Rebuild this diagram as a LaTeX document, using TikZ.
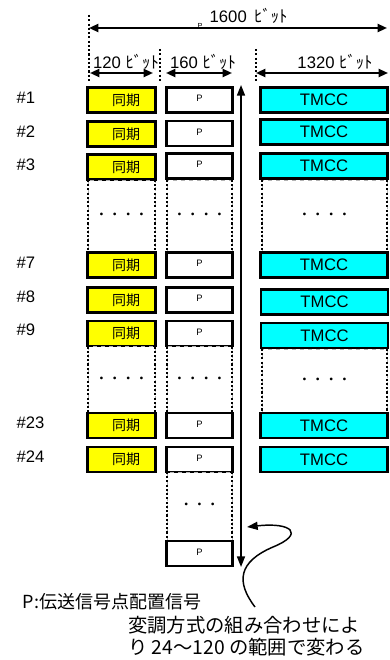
\documentclass[tikz,border=0pt]{standalone}
\usepackage{fontspec}
\setmainfont{Liberation Sans}
\newfontfamily\jp{Noto Sans CJK JP}
\usetikzlibrary{arrows.meta}
\definecolor{tmcccyan}{RGB}{0,255,255}
\definecolor{syncyellow}{RGB}{255,255,0}

\tikzset{
  syncbox/.style={draw, line width=2pt, fill=syncyellow, minimum width=51pt, minimum height=18.75pt, inner sep=0pt, font=\jp\fontsize{10.5}{12}\selectfont},
  pbox/.style={draw, line width=2pt, fill=white, minimum width=49.5pt, minimum height=18.75pt, inner sep=0pt, font=\fontsize{7}{8}\selectfont},
  tmccbox/.style={draw, line width=2pt, fill=tmcccyan, minimum width=95.25pt, minimum height=18.75pt, inner sep=0pt, font=\fontsize{12.5}{14}\selectfont},
  gapbox/.style={draw=gray!60, dashed, thin, inner sep=0pt, font=\jp\fontsize{10}{12}\selectfont},
  gapside/.style={line width=1.6pt, dash pattern=on 1.6pt off 1.6pt},
  rowlbl/.style={anchor=west, font=\fontsize{12.5}{14}\selectfont},
  dimlbl/.style={font=\fontsize{12.5}{14}\selectfont},
  dimarrow/.style={line width=1.5pt, {Triangle[length=7pt,width=6pt]}-{Triangle[length=7pt,width=6pt]}},
  guide/.style={line width=1.6pt, dash pattern=on 1.6pt off 1.6pt},
}
\newcommand{\gapsides}[1]{\draw[gapside] (#1.north west) -- (#1.south west) (#1.north east) -- (#1.south east);}
\newcommand{\bits}{{\jp\fontsize{12.5}{14}\selectfont ﾋﾞｯﾄ}}

\begin{document}
\begin{tikzpicture}[x=0.75pt, y=-0.75pt]
    \useasboundingbox (0,0) rectangle (389,660);

    % bit widths
    \coordinate (g0top) at (89,15);
    \coordinate (g0bot) at (89,83);
    \coordinate (g1top) at (160,49);
    \coordinate (g1bot) at (160,83);
    \coordinate (g2top) at (256,49);
    \coordinate (g2bot) at (256,83);
    \draw[guide] (g0top) -- (g0bot);
    \draw[guide] (g1top) -- (g1bot);
    \draw[guide] (g2top) -- (g2bot);

    \coordinate (allL) at (89,28);
    \coordinate (allR) at (387,28);
    \draw[dimarrow] (allL) -- (allR);
    \node[dimlbl, anchor=west] (alllbl) at (205,16) {1600\, \bits};
    \node[font=\fontsize{5.5}{6}\selectfont] (strayp) at (200,26) {P};

    \coordinate (syncL) at (90,73);
    \coordinate (syncR) at (153,73);
    \coordinate (pL) at (166,73);
    \coordinate (pR) at (232,73);
    \coordinate (tmccL) at (256,73);
    \coordinate (tmccR) at (388,73);
    \draw[dimarrow] (syncL) -- (syncR);
    \draw[dimarrow] (pL) -- (pR);
    \draw[dimarrow] (tmccL) -- (tmccR);
    \node[dimlbl] (synclbl) at (126,62) {120 \bits};
    \node[dimlbl] (plbl) at (203,62) {160 \bits};
    \node[dimlbl] (tmcclbl) at (335,62) {1320 \bits};

    % symbols
    \node[rowlbl] (n1) at (12,98) {\#1};
    \node[syncbox] (s1) at (121.5,100) {\hspace{7pt}同期};
    \node[pbox] (p1) at (199.5,100) {\raisebox{2pt}{P}};
    \node[tmccbox] (t1) at (324,100) {TMCC};

    \node[rowlbl] (n2) at (12,132) {\#2};
    \node[syncbox] (s2) at (121.5,134) {\hspace{7pt}同期};
    \node[pbox] (p2) at (199.5,133.5) {\raisebox{2pt}{P}};
    \node[tmccbox] (t2) at (324,132) {TMCC};

    \node[rowlbl] (n3) at (12,165) {\#3};
    \node[syncbox] (s3) at (121.5,167) {\hspace{7pt}同期};
    \node[pbox] (p3) at (199.5,166) {\raisebox{2pt}{P}};
    \node[tmccbox] (t3) at (324,166) {TMCC};

    \node[gapbox, minimum width=50.25pt, minimum height=54pt] (gs1) at (121.5,216) {・・・・};
    \node[gapbox, minimum width=48.75pt, minimum height=54pt] (gp1) at (199.5,216) {・・・・};
    \node[gapbox, minimum width=93.75pt, minimum height=54pt] (gt1) at (324.5,216) {・・・・};
    \gapsides{gs1}
    \gapsides{gp1}
    \gapsides{gt1}

    \node[rowlbl] (n7) at (12,263) {\#7};
    \node[syncbox] (s7) at (121.5,265) {\hspace{7pt}同期};
    \node[pbox] (p7) at (199.5,265) {\raisebox{2pt}{P}};
    \node[tmccbox] (t7) at (324,265) {TMCC};

    \node[rowlbl] (n8) at (12,297) {\#8};
    \node[syncbox] (s8) at (121.5,300) {\hspace{7pt}同期};
    \node[pbox] (p8) at (199.5,300) {\raisebox{2pt}{P}};
    \node[tmccbox] (t8) at (324.5,302) {TMCC};

    \node[rowlbl] (n9) at (12,330) {\#9};
    \node[syncbox] (s9) at (121.5,333.5) {\hspace{7pt}同期};
    \node[pbox] (p9) at (199.5,333.5) {\raisebox{2pt}{P}};
    \node[tmccbox] (t9) at (324.5,335.5) {TMCC};

    \node[gapbox, minimum width=50.25pt, minimum height=50pt] (gs2) at (121.5,380) {・・・・};
    \node[gapbox, minimum width=48.75pt, minimum height=50pt] (gp2) at (199.5,380) {・・・・};
    \node[gapbox, minimum width=93.75pt, minimum height=48pt] (gt2) at (324.5,381) {・・・・};
    \gapsides{gs2}
    \gapsides{gp2}
    \gapsides{gt2}

    \node[rowlbl] (n23) at (12,423) {\#23};
    \node[syncbox] (s23) at (121.5,425.5) {\hspace{7pt}同期};
    \node[pbox] (p23) at (199.5,425.5) {\raisebox{2pt}{P}};
    \node[tmccbox] (t23) at (324,425.5) {TMCC};

    \node[rowlbl] (n24) at (12,457) {\#24};
    \node[syncbox] (s24) at (121.5,459.5) {\hspace{7pt}同期};
    \node[pbox] (p24) at (199.5,459.5) {\raisebox{2pt}{P}};
    \node[tmccbox] (t24) at (324,459.5) {TMCC};

    \node[gapbox, minimum width=48.75pt, minimum height=51.75pt] (gp3) at (199.5,506.5) {・・・};
    \gapsides{gp3}
    \node[pbox] (plast) at (199.5,553.5) {\raisebox{2pt}{P}};

    % number of symbols
    \coordinate (symtop) at (241,85);
    \coordinate (symbot) at (241,567);
    \draw[line width=1.2pt, {Triangle[length=8pt,width=6pt]}-{Triangle[length=8pt,width=6pt]}] (symtop) -- (symbot);

    \coordinate (cstart) at (255,607);
    \coordinate (cmid) at (273,547);
    \coordinate (cend) at (247,527);
    \draw[line width=1.1pt, -{Triangle[length=8pt,width=6pt]}] (cstart) .. controls (236,582) and (238,562) .. (cmid) .. controls (305,534) and (292,522) .. (cend);

    % notes
    \node[anchor=west, font=\jp\fontsize{13.5}{15}\selectfont] (pnote) at (18,602) {P:伝送信号点配置信号};
    \node[anchor=north west, align=left, inner sep=0pt, font=\jp\fontsize{14.5}{16.5}\selectfont] (rangenote) at (128,616) {変調方式の組み合わせによ\\り 24～120 の範囲で変わる};
\end{tikzpicture}
\end{document}
